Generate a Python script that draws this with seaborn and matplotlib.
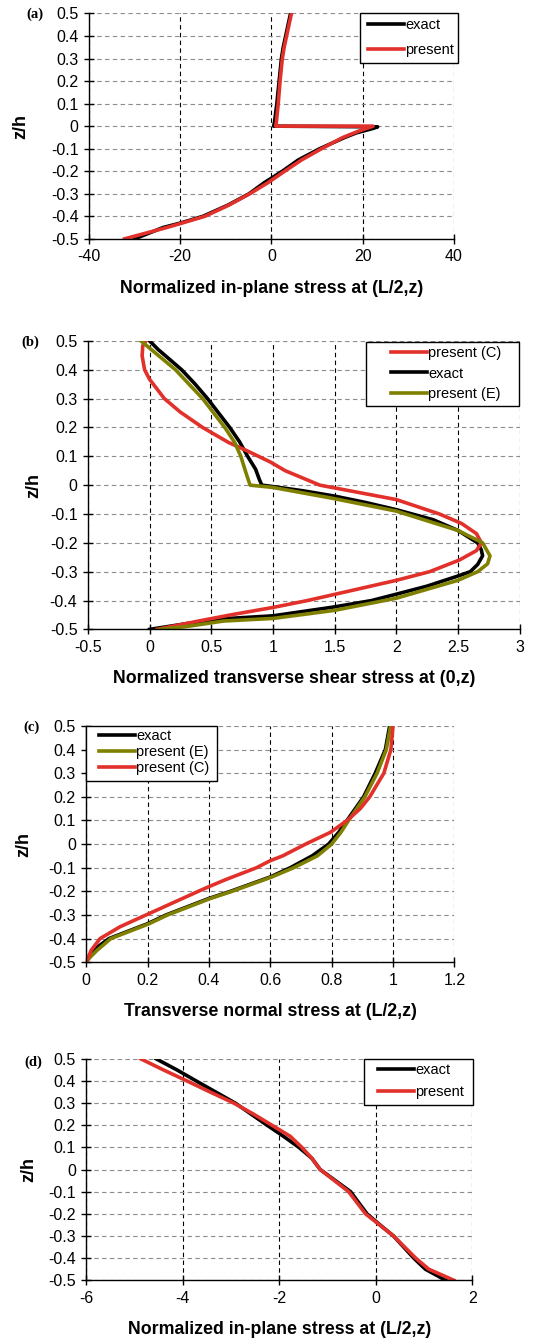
import matplotlib
matplotlib.use("Agg")
import pandas as pd
import matplotlib.pyplot as plt
from matplotlib.patches import Rectangle
import seaborn as sns

# ---- panel (a): normalized in-plane stress at (L/2,z)
a_exact_z = [0.5, 0.35, 0.3, 0.2, 0.1, 0.02, 0.0, -0.003, -0.01, -0.03, -0.05, -0.1, -0.15,
             -0.2, -0.25, -0.3, -0.35, -0.4, -0.43, -0.45, -0.5]
a_exact_x = [4.2, 2.6, 2.2, 1.7, 1.2, 0.7, 0.5, 23.3, 22.3, 18.6, 16.1, 10.6, 5.9,
             2.4, -1.5, -4.9, -9.5, -15.0, -20.0, -23.8, -30.0]
a_pres_z = [0.5, 0.35, 0.3, 0.2, 0.1, 0.02, 0.0, 0.0, -0.02, -0.05, -0.1, -0.15,
            -0.2, -0.25, -0.3, -0.35, -0.4, -0.45, -0.5]
a_pres_x = [4.4, 2.8, 2.4, 1.9, 1.5, 1.1, 0.95, 22.3, 19.4, 15.7, 11.0, 6.6,
            2.9, -0.7, -4.75, -9.3, -14.6, -23.0, -32.2]

# ---- panel (b): normalized transverse shear stress at (0,z)
b_exact_z = [0.5, 0.47, 0.448, 0.424, 0.4, 0.35, 0.3, 0.25, 0.2, 0.15, 0.1, 0.055, 0.02, 0.0,
             -0.005, -0.02, -0.038, -0.06, -0.085, -0.12, -0.157, -0.2, -0.225, -0.245,
             -0.275, -0.3, -0.315, -0.35, -0.378, -0.4, -0.422, -0.453, -0.463, -0.48, -0.5]
b_exact_x = [0.0, 0.07, 0.13, 0.195, 0.26, 0.37, 0.47, 0.56, 0.65, 0.73, 0.795, 0.86, 0.89, 0.91,
             1.0, 1.25, 1.5, 1.75, 2.0, 2.3, 2.5, 2.66, 2.69, 2.70,
             2.66, 2.6, 2.5, 2.25, 2.0, 1.8, 1.5, 1.0, 0.6, 0.3, 0.0]
b_presC_z = [0.5, 0.483, 0.448, 0.4, 0.367, 0.3, 0.253, 0.2, 0.148, 0.119, 0.08, 0.05, 0.0,
             -0.05, -0.1, -0.133, -0.168, -0.2, -0.227, -0.26, -0.3, -0.33, -0.365, -0.4,
             -0.424, -0.448, -0.47, -0.5]
b_presC_x = [-0.03, -0.055, -0.06, -0.04, 0.0, 0.12, 0.25, 0.43, 0.64, 0.79, 0.98, 1.1, 1.38,
             2.0, 2.35, 2.53, 2.65, 2.69, 2.65, 2.51, 2.27, 2.0, 1.64, 1.28,
             1.0, 0.68, 0.41, 0.06]
b_presE_z = [0.5, 0.4, 0.3, 0.2, 0.148, 0.1, 0.045, 0.0, -0.008, -0.047, -0.09, -0.157, -0.2,
             -0.245, -0.273, -0.3, -0.33, -0.392, -0.434, -0.462, -0.471, -0.49, -0.5]
b_presE_x = [-0.07, 0.21, 0.43, 0.61, 0.69, 0.74, 0.78, 0.815, 1.0, 1.5, 2.0, 2.5, 2.70,
             2.76, 2.74, 2.66, 2.5, 2.0, 1.5, 1.0, 0.6, 0.3, 0.08]

# ---- panel (c): transverse normal stress at (L/2,z)
c_exact_z = [0.5, 0.4, 0.3, 0.2, 0.1, 0.05, 0.0, -0.05, -0.1, -0.139, -0.2, -0.23, -0.3,
             -0.337, -0.4, -0.446, -0.48, -0.5]
c_exact_x = [0.989, 0.975, 0.942, 0.904, 0.85, 0.823, 0.79, 0.736, 0.665, 0.6, 0.47, 0.4, 0.26,
             0.2, 0.074, 0.026, 0.008, 0.0]
c_presE_z = [0.5, 0.4, 0.3, 0.2, 0.1, 0.05, 0.0, -0.05, -0.1, -0.139, -0.2, -0.23, -0.3,
             -0.337, -0.4, -0.45, -0.48, -0.5]
c_presE_x = [0.992, 0.978, 0.948, 0.908, 0.855, 0.83, 0.80, 0.753, 0.676, 0.605, 0.475, 0.405, 0.265,
             0.205, 0.08, 0.035, 0.012, 0.0]
c_presC_z = [0.5, 0.4, 0.3, 0.2, 0.15, 0.1, 0.05, 0.0, -0.05, -0.07, -0.1, -0.15, -0.18,
             -0.2, -0.25, -0.297, -0.35, -0.4, -0.45, -0.5]
c_presC_x = [1.0, 0.993, 0.97, 0.924, 0.893, 0.85, 0.796, 0.715, 0.64, 0.6, 0.555, 0.455, 0.4,
             0.365, 0.28, 0.2, 0.11, 0.045, 0.016, 0.0]

# ---- panel (d): normalized in-plane stress at (L/2,z)
d_exact_z = [0.5, 0.45, 0.4, 0.3, 0.2, 0.15, 0.1, 0.05, 0.0, -0.1, -0.2, -0.25, -0.3,
             -0.4, -0.45, -0.5]
d_exact_x = [-4.55, -4.12, -3.72, -2.91, -2.25, -1.91, -1.59, -1.32, -1.15, -0.52, -0.18, 0.09, 0.37,
             0.79, 1.03, 1.45]
d_pres_z = [0.5, 0.45, 0.4, 0.35, 0.3, 0.25, 0.2, 0.15, 0.1, 0.05, 0.0, -0.1, -0.2, -0.3,
            -0.4, -0.45, -0.5]
d_pres_x = [-4.87, -4.40, -3.91, -3.43, -2.94, -2.53, -2.15, -1.77, -1.53, -1.32, -1.15, -0.56, -0.21, 0.37,
            0.83, 1.10, 1.62]

z_ticks = [-0.5, -0.4, -0.3, -0.2, -0.1, 0, 0.1, 0.2, 0.3, 0.4, 0.5]

RED = "#e2302a"
OLIVE = "#808000"
BLACK = "#000000"

plt.rcParams["axes.unicode_minus"] = False
plt.rcParams["font.family"] = ["Liberation Sans", "DejaVu Sans"]

W, H = 539, 1342
LEG_FS = 10.5


def fx(px):
    return px / W


def fy(py):
    return 1 - py / H


def draw(ax, series, order, box, first_row, spacing):
    for name, xs, zs, color in series:
        df = pd.DataFrame({"x": xs, "z": zs})
        sns.lineplot(data=df, x="x", y="z", sort=False, estimator=None, ax=ax,
                     color=color, lw=2.6, label=name)
    handles, labels = ax.get_legend_handles_labels()
    lookup = dict(zip(labels, handles))
    # legend entries placed like the reference, frame drawn as a plain box
    row_h = LEG_FS * 100 / 72
    leg = ax.legend([lookup[n] for n in order], order, loc="upper left",
                    bbox_to_anchor=(fx(first_row[0]), fy(first_row[1] - row_h / 2 + 1)),
                    bbox_transform=fig.transFigure, frameon=False, fontsize=LEG_FS,
                    handlelength=2.5, handletextpad=0.05, labelspacing=spacing,
                    borderpad=0, borderaxespad=0)
    leg.set_zorder(5)
    x0, y0, x1, y1 = box
    ax.add_patch(Rectangle((fx(x0), fy(y1)), fx(x1) - fx(x0), fy(y0) - fy(y1),
                           transform=fig.transFigure, facecolor="white",
                           edgecolor="black", lw=1.0, clip_on=False, zorder=4))


def style(ax, xlim, xticks, xlabel, tag, tag_xy, ylab_x, xlab_x=0.5):
    ax.set_xlim(xlim)
    ax.set_ylim(-0.5, 0.5)
    ax.set_xticks(xticks)
    ax.set_yticks(z_ticks)
    ax.set_xticklabels(["%g" % t for t in xticks])
    ax.set_yticklabels(["%g" % t for t in z_ticks])
    ax.xaxis.grid(True, color="black", ls=(0, (4, 3)), lw=0.8)
    ax.yaxis.grid(True, color="#8c8c8c", ls=(0, (4, 3)), lw=0.8)
    ax.set_axisbelow(True)
    for s in ["top", "right"]:
        ax.spines[s].set_visible(False)
    for s in ["left", "bottom"]:
        ax.spines[s].set_linewidth(1.0)
    ax.tick_params(direction="inout", length=7, width=1, labelsize=11.5, pad=4)
    ax.set_xlabel(xlabel, fontweight="bold", fontsize=12.8, labelpad=11)
    ax.xaxis.label.set_x(xlab_x)
    ax.set_ylabel("z/h", fontweight="bold", fontsize=13)
    ax.yaxis.set_label_coords(ylab_x, 0.5)
    fig.text(fx(tag_xy[0]), fy(tag_xy[1]), tag, ha="left", va="center",
             fontsize=10.5, fontweight="bold", family=["Liberation Serif", "DejaVu Serif"])


fig = plt.figure(figsize=(W / 100, H / 100), dpi=100)

ax_a = fig.add_axes([0.165, 0.822, 0.677, 0.168])
draw(ax_a, [("exact", a_exact_x, a_exact_z, BLACK),
            ("present", a_pres_x, a_pres_z, RED)],
     ["exact", "present"], (360, 13, 458, 63), (368, 24), 0.75)
style(ax_a, (-40, 40), [-40, -20, 0, 20, 40], "Normalized in-plane stress at (L/2,z)",
      "(a)", (26, 14), -0.163)

ax_b = fig.add_axes([0.163, 0.531, 0.801, 0.215])
draw(ax_b, [("exact", b_exact_x, b_exact_z, BLACK),
            ("present (C)", b_presC_x, b_presC_z, RED),
            ("present (E)", b_presE_x, b_presE_z, OLIVE)],
     ["present (C)", "exact", "present (E)"], (366, 342, 519, 406), (391, 352), 0.47)
style(ax_b, (-0.5, 3), [-0.5, 0, 0.5, 1, 1.5, 2, 2.5, 3],
      "Normalized transverse shear stress at (0,z)", "(b)", (21, 342), -0.106, 0.477)

ax_c = fig.add_axes([0.160, 0.283, 0.683, 0.176])
draw(ax_c, [("exact", c_exact_x, c_exact_z, BLACK),
            ("present (E)", c_presE_x, c_presE_z, OLIVE),
            ("present (C)", c_presC_x, c_presC_z, RED)],
     ["exact", "present (E)", "present (C)"], (86, 726, 217, 781), (99, 735), 0.14)
style(ax_c, (0, 1.2), [0, 0.2, 0.4, 0.6, 0.8, 1, 1.2],
      "Transverse normal stress at (L/2,z)", "(c)", (23, 727), -0.146)

ax_d = fig.add_axes([0.160, 0.046, 0.716, 0.165])
draw(ax_d, [("exact", d_exact_x, d_exact_z, BLACK),
            ("present", d_pres_x, d_pres_z, RED)],
     ["exact", "present"], (364, 1059, 473, 1105), (378, 1069), 0.6)
style(ax_d, (-6, 2), [-6, -4, -2, 0, 2], "Normalized in-plane stress at (L/2,z)",
      "(d)", (24, 1062), -0.127)

fig.savefig("out.png", dpi=100)
